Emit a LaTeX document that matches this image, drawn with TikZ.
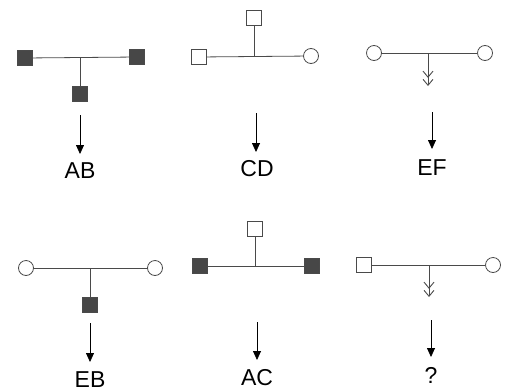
\documentclass[tikz,border=0pt]{standalone}
\usepackage{fontspec}
\setmainfont{Liberation Sans}
\usetikzlibrary{arrows.meta}
\definecolor{fillgray}{HTML}{474747}
\definecolor{linegray}{HTML}{4A4A4A}
\begin{document}
\begin{tikzpicture}[x=1pt,y=-1pt,
  sq/.style={draw=linegray,line width=0.8pt,minimum size=15pt,inner sep=0pt,fill=white},
  fsq/.style={sq,fill=fillgray},
  circ/.style={circle,draw=linegray,line width=0.8pt,minimum size=15pt,inner sep=0pt,fill=white},
  conn/.style={draw=linegray,line width=0.8pt},
  dbl/.style={conn,-{Straight Barb[length=6pt,width=10pt,line width=0.9pt,sep=1pt]Straight Barb[length=6pt,width=10pt,line width=0.9pt]}},
  arr/.style={draw=black,line width=0.8pt,-{Triangle[length=9pt,width=8pt]}},
  lab/.style={font=\fontsize{23}{25}\selectfont,inner sep=0pt,anchor=base}
]
\useasboundingbox[fill=white] (0,0) rectangle (510,391);

% Panel 1: AB
\node[fsq] (p1l) at (25,58) {};
\node[fsq] (p1r) at (137,57) {};
\node[fsq] (p1b) at (80,94) {};
\coordinate (p1j) at (80,57.5);
\draw[conn] (p1l) -- (p1r);
\draw[conn] (p1j) -- (p1b);
\coordinate (p1a) at (80,115);
\coordinate (p1e) at (80,154);
\draw[arr] (p1a) -- (p1e);
\node[lab] (p1t) at (80,178) {AB};

% Panel 2: CD
\node[sq] (p2l) at (199,57) {};
\node[sq] (p2t) at (254,18) {};
\node[circ] (p2r) at (311,56) {};
\coordinate (p2j) at (254,56.5);
\draw[conn] (p2l) -- (p2r);
\draw[conn] (p2t) -- (p2j);
\coordinate (p2a) at (256,113);
\coordinate (p2e) at (256,152);
\draw[arr] (p2a) -- (p2e);
\node[lab] (p2lab) at (257,176) {CD};

% Panel 3: EF
\node[circ] (p3l) at (374,53) {};
\node[circ] (p3r) at (485,53) {};
\coordinate (p3j) at (428,53);
\coordinate (p3d) at (428,86);
\draw[conn] (p3l) -- (p3r);
\draw[dbl] (p3j) -- (p3d);
\coordinate (p3a) at (432,112);
\coordinate (p3e) at (432,149);
\draw[arr] (p3a) -- (p3e);
\node[lab] (p3lab) at (432,175) {EF};

% Panel 4: EB
\node[circ] (p4l) at (26,268) {};
\node[circ] (p4r) at (155,268) {};
\node[fsq] (p4b) at (90,305) {};
\coordinate (p4j) at (90,268);
\draw[conn] (p4l) -- (p4r);
\draw[conn] (p4j) -- (p4b);
\coordinate (p4a) at (90,323);
\coordinate (p4e) at (90,362);
\draw[arr] (p4a) -- (p4e);
\node[lab] (p4lab) at (90,387) {EB};

% Panel 5: AC
\node[sq] (p5t) at (255,229) {};
\node[fsq] (p5l) at (200,266) {};
\node[fsq] (p5r) at (312,266) {};
\coordinate (p5j) at (255,266);
\draw[conn] (p5l) -- (p5r);
\draw[conn] (p5t) -- (p5j);
\coordinate (p5a) at (257,322);
\coordinate (p5e) at (257,360);
\draw[arr] (p5a) -- (p5e);
\node[lab] (p5lab) at (257,385) {AC};

% Panel 6: ?
\node[sq] (p6l) at (364,265) {};
\node[circ] (p6r) at (493,265) {};
\coordinate (p6j) at (429,265);
\coordinate (p6d) at (429,297);
\draw[conn] (p6l) -- (p6r);
\draw[dbl] (p6j) -- (p6d);
\coordinate (p6a) at (431,320);
\coordinate (p6e) at (431,357);
\draw[arr] (p6a) -- (p6e);
\node[lab] (p6lab) at (431,383) {?};
\end{tikzpicture}
\end{document}
